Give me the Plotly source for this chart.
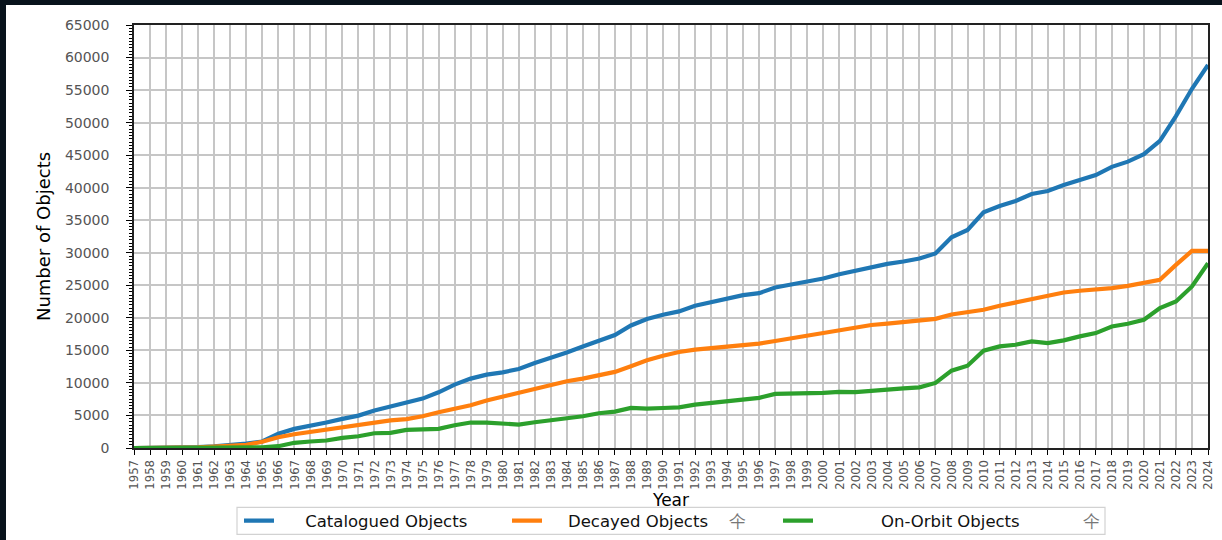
import plotly.graph_objects as go

years = list(range(1957, 2025))

catalogued = [0, 10, 20, 50, 120, 250, 430, 690, 1000, 2180, 2940, 3350, 3910, 4470, 4980,
              5750, 6320, 6930, 7590, 8560, 9740, 10660, 11270, 11630, 12150, 13060, 13830,
              14690, 15610, 16530, 17360, 18830, 19810, 20480, 20990, 21850, 22370, 22970,
              23490, 23800, 24670, 25130, 25580, 26040, 26710, 27270, 27780, 28300, 28650,
              29110, 29900, 32390, 33510, 36220, 37190, 37960, 39030, 39500, 40400, 41180,
              41950, 43200, 44000, 45150, 47200, 51000, 55200, 58850]

decayed = [0, 5, 15, 40, 90, 200, 300, 490, 950, 1660, 2120, 2480, 2840, 3140, 3500, 3960,
           4250, 4450, 4880, 5490, 6010, 6570, 7290, 7900, 8560, 9170, 9740, 10250, 10660,
           11120, 11690, 12550, 13470, 14190, 14750, 15110, 15360, 15620, 15770, 16030,
           16440, 16850, 17250, 17610, 18020, 18590, 18900, 19100, 19350, 19610, 19840,
           20520, 20830, 21240, 21850, 22370, 22880, 23540, 23900, 24160, 24310, 24570,
           24920, 25340, 25840, 28140, 30290, 30290]

on_orbit = [0, 2, 5, 10, 20, 40, 60, 80, 100, 280, 800, 1000, 1150, 1560, 1810, 2270, 2330,
            2790, 2790, 2940, 3500, 3910, 3910, 3760, 3600, 3960, 4220, 4470, 4880, 5340,
            5600, 6150, 6050, 6150, 6250, 6670, 6930, 7340, 7590, 7700, 8310, 8310, 8360,
            8460, 8620, 8580, 8770, 9020, 9170, 9320, 10000, 11890, 12650, 14950, 15620,
            15870, 16390, 16130, 16540, 17150, 17660, 18680, 19100, 19710, 21500, 22520,
            24820, 28400]

series_names = ["Catalogued Objects", "Decayed Objects", "On-Orbit Objects"]
series_colors = ["#1f77b4", "#ff7f0e", "#2ca02c"]
nb = "\u00a0"
glyph = "<span style='color:#777'>仐</span>"
legend_labels = [
    nb * 5 + series_names[0],
    nb * 4 + series_names[1] + nb * 4 + glyph,
    nb * 12 + series_names[2] + nb * 12 + glyph,
]
legend_ids = ["legend", "legend2", "legend3"]

W, H = 1222, 540
L, R, T, B = 134, 14, 25, 91.5
pw, ph = W - L - R, H - T - B


def px_x(p):
    return (p - L) / pw


def px_y(p):
    return (H - B - p) / ph


fig = go.Figure()
for vals, lab, col, lid in zip([catalogued, decayed, on_orbit], legend_labels,
                               series_colors, legend_ids):
    fig.add_trace(go.Scatter(x=years, y=vals, mode="lines", name=lab, legend=lid,
                             line=dict(color=col, width=4.2)))

# white card behind the chart
fig.add_shape(type="rect", xref="paper", yref="paper", layer="below",
              x0=px_x(6), x1=px_x(W + 2), y0=px_y(H + 2), y1=px_y(5),
              fillcolor="white", line=dict(width=0))
# legend frame
fig.add_shape(type="rect", xref="paper", yref="paper", layer="above",
              x0=px_x(237), x1=px_x(1105), y0=px_y(535), y1=px_y(508),
              fillcolor="rgba(0,0,0,0)", line=dict(color="#d2d2d2", width=1.2))

legend_font = dict(family="DejaVu Sans", size=16.5, color="#111")
legend_x_px = [239, 507, 778]
legend_cfg = {}
for lid, lx in zip(legend_ids, legend_x_px):
    legend_cfg[lid] = dict(
        orientation="h", x=px_x(lx), xanchor="left", y=px_y(521.5), yanchor="middle",
        bgcolor="rgba(0,0,0,0)", borderwidth=0, font=legend_font,
    )

tick_font = dict(family="DejaVu Sans", size=14, color="#555555")

fig.update_layout(
    width=W, height=H,
    margin=dict(l=L, r=R, t=T, b=B, autoexpand=False),
    paper_bgcolor="#08131c",
    plot_bgcolor="white",
    font=dict(family="DejaVu Sans", color="black"),
    showlegend=True,
    **legend_cfg,
    xaxis=dict(
        range=[1957, 2024], tick0=1957, dtick=1, tickmode="linear",
        tickangle=-90,
        tickfont=dict(family="DejaVu Sans Condensed, DejaVu Sans", size=13, color="#555555"),
        ticks="outside", ticklen=5, tickcolor="black", tickwidth=1,
        showgrid=True, gridcolor="#c6c6c6", gridwidth=1.5,
        showline=True, linecolor="#222", linewidth=1.5, mirror=True,
        zeroline=False, automargin=False,
        title=dict(text="Year", font=dict(size=17, color="black"), standoff=0),
    ),
    yaxis=dict(
        range=[0, 65000], tick0=0, dtick=5000, tickmode="linear",
        tickfont=tick_font, tickformat="d",
        ticks="outside", ticklen=6, tickcolor="black", tickwidth=1,
        ticklabelstandoff=14,
        minor=dict(dtick=500, ticks="outside", ticklen=3, tickcolor="black", showgrid=False),
        showgrid=True, gridcolor="#c6c6c6", gridwidth=1.5,
        showline=True, linecolor="#222", linewidth=1.5, mirror=True,
        zeroline=False, automargin=False,
        title=dict(text="Number of Objects", font=dict(size=18, color="black"), standoff=10),
    ),
)

fig.write_html("out.html")
